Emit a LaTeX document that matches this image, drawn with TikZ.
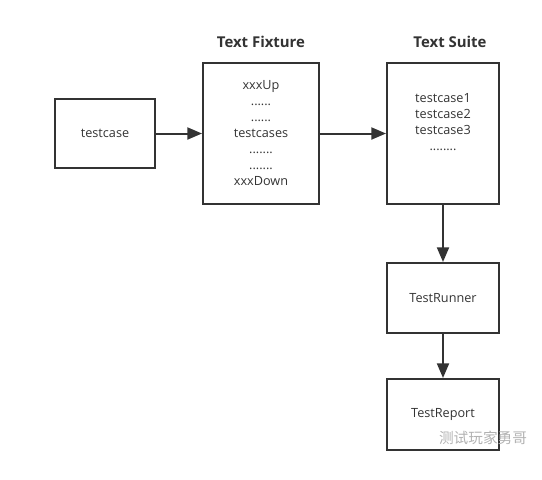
\documentclass[tikz,border=0pt]{standalone}
\usepackage{fontspec}
\setmainfont{Open Sans}
\newfontfamily\cjk{Noto Sans CJK SC}
\usetikzlibrary{arrows.meta}
\definecolor{ink}{HTML}{333333}
\begin{document}
\begin{tikzpicture}[x=0.75pt,y=-0.75pt,
            box/.style={draw=ink,line width=1.5pt,text=ink,align=center,font=\fontsize{9.5}{12}\selectfont},
            title/.style={text=ink,font=\bfseries\fontsize{11.2}{12}\selectfont},
            flow/.style={draw=ink,line width=1.5pt,-{Triangle[length=11pt,width=9pt]}}]
        \useasboundingbox (0,0) rectangle (542,479);
        % boxes
        \node[box,minimum width=75pt,minimum height=51.75pt] (tc) at (105,133.5) {testcase};
        \node[box,minimum width=87pt,minimum height=105.75pt] (fix) at (261,133.5)
            {xxxUp\\......\\......\\testcases\\.......\\.......\\xxxDown};
        \node[box,minimum width=84pt,minimum height=105.75pt] (suite) at (443,133.5)
            {testcase1\\testcase2\\testcase3\\........\\[6pt]};
        \node[box,minimum width=84pt,minimum height=52.5pt] (runner) at (443,298) {TestRunner};
        \node[box,minimum width=84pt,minimum height=53.25pt] (report) at (443,414.5) {TestReport};
        % titles
        \node[title] (fixtitle) at (261,42) {Text Fixture};
        \node[title] (suitetitle) at (450,42) {Text Suite};
        % arrows
        \draw[flow] (tc) -- (fix);
        \draw[flow] (fix) -- (suite);
        \draw[flow] (suite) -- (runner);
        \draw[flow] (runner) -- (report);
        % watermark
        \node[text=black!30,font=\cjk\fontsize{11}{12}\selectfont] (mark) at (483,438) {测试玩家勇哥};
\end{tikzpicture}
\end{document}
